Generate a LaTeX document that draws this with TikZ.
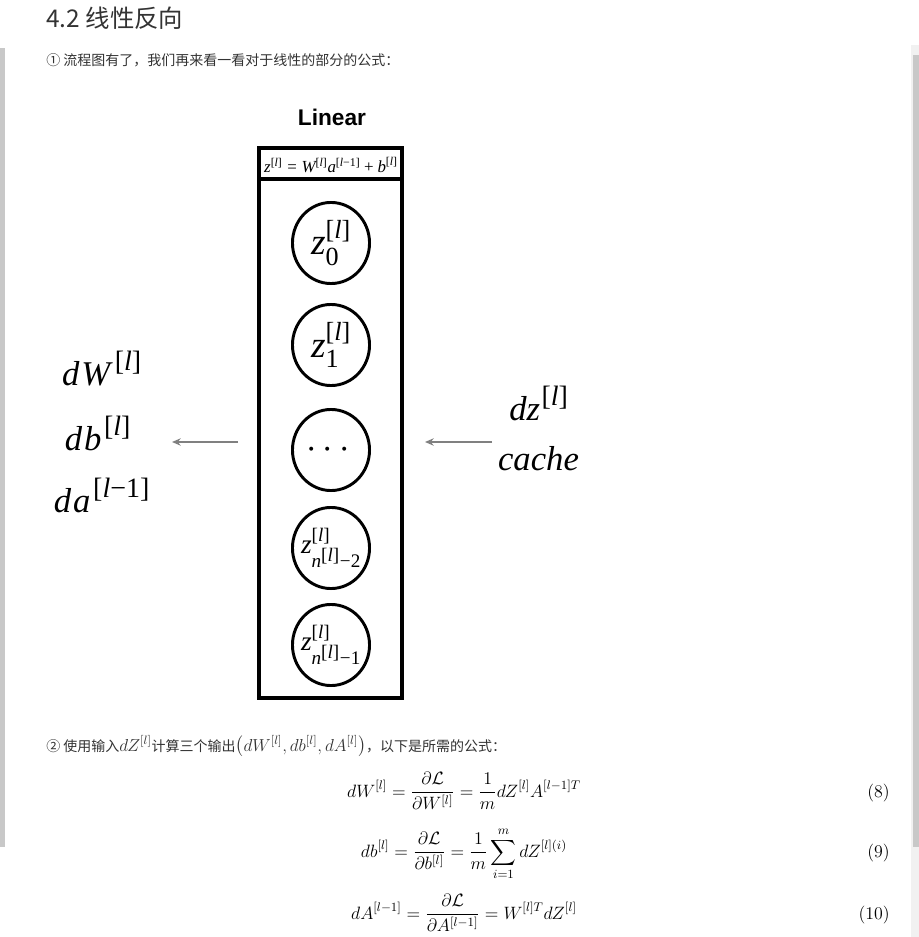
\RequirePackage{fix-cm}
\documentclass[tikz,border=0pt]{standalone}
\usepackage{amsmath}
\usepackage{amssymb}
\usepackage{fontspec}
\usepackage{tikz}
\usepackage{xcolor}
\usetikzlibrary{shapes.geometric, arrows.meta, positioning, calc}

\newfontfamily\cjk{Noto Sans CJK SC}
\newfontfamily\tms{Liberation Serif}
\newfontfamily\hlv{Liberation Sans}
\definecolor{txtgray}{HTML}{333333}
\definecolor{arrgray}{HTML}{808080}
\definecolor{barlight}{HTML}{F1F1F1}
\definecolor{bardark}{HTML}{C8C8C8}
% Times-like letters inside math
\newcommand\tmi[1]{\text{\tms\itshape #1}}
\newcommand\tmu[1]{\text{\tms #1}}
\newcommand\lsup{\tmu{[}\tmi{l}\tmu{]}}
\newcommand\lmsup{\tmu{[}\tmi{l}\tmu{−1]}}
% bigger superscripts for the side labels
\newcommand\glsup{\text{\tms\fontsize{21}{21}\selectfont[\textit{l}]}}
\newcommand\glmsup{\text{\tms\fontsize{21}{21}\selectfont[\textit{l}−1]}}

\begin{document}
\begin{tikzpicture}[x=0.75pt,y=-0.75pt,
  neuron/.style={draw, ellipse, line width=2.2pt, minimum width=57.8pt,
    minimum height=60.8pt, inner sep=0pt},
  flow/.style={draw=arrgray, line width=1.4pt, -{Stealth[length=6.5pt,width=5.5pt]}},
  para/.style={anchor=base west, inner sep=0pt, text=txtgray,
    font=\cjk\fontsize{10.5}{12}\selectfont},
  eqn/.style={anchor=base, inner sep=0pt, font=\fontsize{13.4}{16}\selectfont},
  eqno/.style={anchor=base east, inner sep=0pt, font=\fontsize{13.4}{16}\selectfont},
  grad/.style={anchor=base, inner sep=0pt, font=\tms\fontsize{26}{30}\selectfont}]
\useasboundingbox (0,0) rectangle (919,937);
\fill[white] (0,0) rectangle (919,937);
% window scroll bars
\fill[barlight] (911,45) rectangle (919,937);
\fill[bardark] (913,55) rectangle (919,847);
\fill[bardark] (0,48) rectangle (5,847);

% heading and text lines
\node[anchor=base west, inner sep=0pt, text=txtgray,
  font=\cjk\fontsize{18.3}{22}\selectfont] (head) at (46,28) {4.2 线性反向};
\node[para] (line1) at (46,66) {① 流程图有了，我们再来看一看对于线性的部分的公式：};

% linear block
\node[font=\hlv\bfseries\fontsize{17}{20}\selectfont] (ttl) at (332,117) {Linear};
\draw[line width=3pt] (259,148.5) rectangle (402,698);
\draw[line width=2.3pt] (259,179) -- (402,179);
\node[anchor=base, inner sep=0pt, font=\fontsize{12.7}{15}\selectfont] (fwd) at (331,173)
  {$\tmi{z}^{\lsup}\mathrel{\tmu{=}}\tmi{W}^{\lsup}\tmi{a}^{\lmsup}\mathbin{\tmu{+}}\tmi{b}^{\lsup}$};

\node[neuron, font=\fontsize{28}{32}\selectfont] (z0) at (331,243)
  {\makebox[0pt]{$\tmi{z}^{\lsup}_{\tmu{0}}$}};
\node[neuron, font=\fontsize{28}{32}\selectfont] (z1) at (331,345)
  {\makebox[0pt]{$\tmi{z}^{\lsup}_{\tmu{1}}$}};
\node[neuron, font=\fontsize{28}{32}\selectfont] (zd) at (331,450)
  {\makebox[0pt]{$\cdots$}};
\node[neuron, font=\fontsize{20.5}{24}\selectfont] (zm) at (331,548)
  {\makebox[0pt]{$\tmi{z}^{\lsup}_{\tmi{n}^{\scriptstyle\lsup}\mathbin{\tmu{−}}\tmu{2}}$}};
\node[neuron, font=\fontsize{20.5}{24}\selectfont] (zn) at (331,645)
  {\makebox[0pt]{$\tmi{z}^{\lsup}_{\tmi{n}^{\scriptstyle\lsup}\mathbin{\tmu{−}}\tmu{1}}$}};

% outputs on the left, inputs on the right
\node[grad] (dw) at (102,385) {$\tmi{d\kern1.5pt W\kern3.5pt}^{\glsup}$};
\node[grad] (db) at (98,450) {$\tmi{d\kern1.5pt b\kern2pt}^{\glsup}$};
\node[grad] (da) at (102,512) {$\tmi{d\kern1.5pt a\kern2pt}^{\glmsup}$};
\node[grad] (dz) at (539,420) {$\tmi{dz\kern1pt}^{\glsup}$};
\node[grad] (cache) at (538.5,470) {\itshape cache};

\coordinate (outtail) at (238,442);
\coordinate (outtip) at (172,442);
\coordinate (intail) at (492,442);
\coordinate (intip) at (425,442);
\draw[flow] (outtail) -- (outtip);
\draw[flow] (intail) -- (intip);

% formulas
\node[para] (line2) at (46,751) {② 使用输入{\fontsize{13}{15}\selectfont$dZ^{[l]}$}计算三个输出{\fontsize{13}{15}\selectfont$\left(dW^{[l]}, db^{[l]}, dA^{[l]}\right)$}，以下是所需的公式：};

\node[eqn] (eq8) at (464,797)
  {$\displaystyle dW^{[l]} = \frac{\partial \mathcal{L}}{\partial W^{[l]}} = \frac{1}{m} dZ^{[l]} A^{[l-1]T}$};
\node[eqn] (eq9) at (464,857)
  {$\displaystyle db^{[l]} = \frac{\partial \mathcal{L}}{\partial b^{[l]}} = \frac{1}{m} \sum_{i=1}^{m} dZ^{[l](i)}$};
\node[eqn] (eq10) at (464,919)
  {$\displaystyle dA^{[l-1]} = \frac{\partial \mathcal{L}}{\partial A^{[l-1]}} = W^{[l]T} dZ^{[l]}$};
\node[eqno] (n8) at (890,797) {(8)};
\node[eqno] (n9) at (890,857) {(9)};
\node[eqno] (n10) at (890,919) {(10)};
\end{tikzpicture}
\end{document}
